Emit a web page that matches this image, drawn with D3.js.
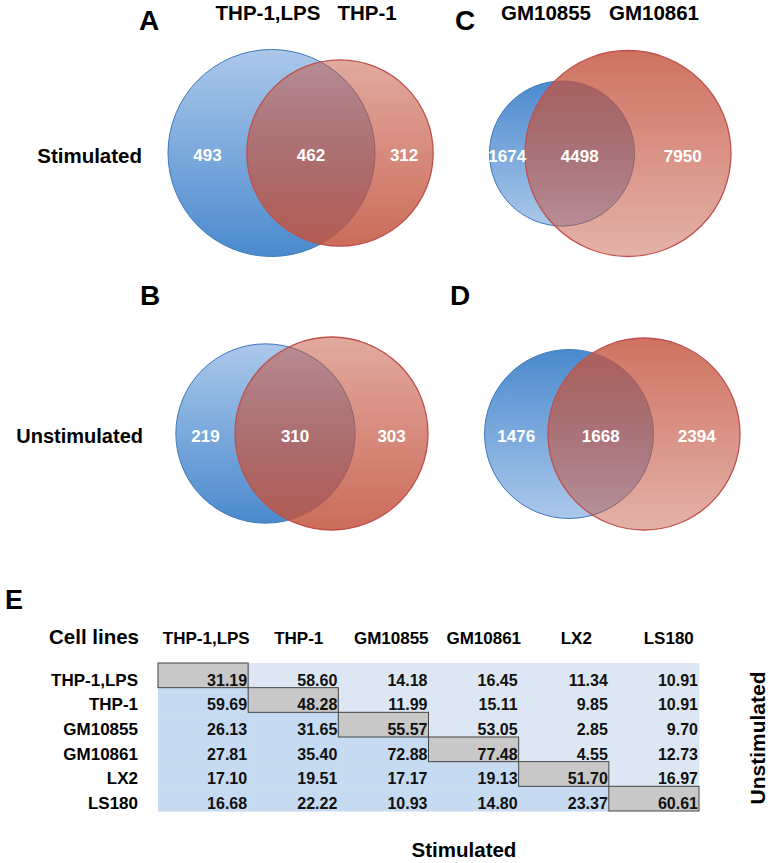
<!DOCTYPE html>
<html><head><meta charset="utf-8">
<script src="https://cdn.jsdelivr.net/npm/d3@7"></script>
<style>
html,body{margin:0;padding:0;background:#fff;}
svg{display:block;font-family:"Liberation Sans",Arial,Helvetica,sans-serif;font-weight:bold;}
</style></head>
<body>
<script>
// ---------- data ----------
const vennLetters = ["A", "B", "C", "D"];
const vennLeftNames = ["THP-1,LPS", "", "GM10855", ""];
const vennRightNames = ["THP-1", "", "GM10861", ""];
const vennOnlyLeft = [493, 219, 1674, 1476];
const vennShared = [462, 310, 4498, 1668];
const vennOnlyRight = [312, 303, 7950, 2394];
const vennRowLabels = ["Stimulated", "Unstimulated"];

const cellLines = ["THP-1,LPS", "THP-1", "GM10855", "GM10861", "LX2", "LS180"];
const overlapTable = [
  [31.19, 58.60, 14.18, 16.45, 11.34, 10.91],
  [59.69, 48.28, 11.99, 15.11, 9.85, 10.91],
  [26.13, 31.65, 55.57, 53.05, 2.85, 9.70],
  [27.81, 35.40, 72.88, 77.48, 4.55, 12.73],
  [17.10, 19.51, 17.17, 19.13, 51.70, 16.97],
  [16.68, 22.22, 10.93, 14.80, 23.37, 60.61]
];

// ---------- layout ----------
const W = 768, H = 863;
const svg = d3.select("body").append("svg").attr("width", W).attr("height", H);
const defs = svg.append("defs");

// panel layout: blue center x, red center x, center y, max radius, gradient direction, letter pos
const panelLayout = [
  {bx: 271.5, rx: 340, cy: 153, rMax: 103.5, lightTop: true,  lx: 149, ly: 30, hy: 20, hl: 268, hr: 367},
  {bx: 265.5, rx: 331.5, cy: 433.5, rMax: 96.5, lightTop: true,  lx: 150, ly: 305},
  {bx: 562, rx: 628, cy: 153.5, rMax: 103, lightTop: false, lx: 465, ly: 30, hy: 20, hl: 546, hr: 654},
  {bx: 569, rx: 644, cy: 434, rMax: 96, lightTop: false, lx: 460, ly: 305}
];

function makeGrad(id, stops) {
  const g = defs.append("linearGradient").attr("id", id)
    .attr("x1", 0).attr("y1", 0).attr("x2", 0).attr("y2", 1);
  stops.forEach(s => g.append("stop").attr("offset", s[0]).attr("stop-color", s[1]).attr("stop-opacity", s[2]));
}
const blueLight = "#abc8ea", blueDark = "#4b8ace";
const redBase = "#c4543f";

vennLetters.forEach((letter, i) => {
  const L = panelLayout[i];
  const leftTotal = vennOnlyLeft[i] + vennShared[i];
  const rightTotal = vennOnlyRight[i] + vennShared[i];
  const r = d3.scaleSqrt().domain([0, Math.max(leftTotal, rightTotal)]).range([0, L.rMax]);
  const rb = r(leftTotal), rr = r(rightTotal);

  makeGrad("blue" + i, L.lightTop ? [[0, blueLight, 1], [1, blueDark, 1]] : [[0, blueDark, 1], [1, blueLight, 1]]);
  makeGrad("red" + i, L.lightTop ? [[0, redBase, 0.5], [1, redBase, 0.86]] : [[0, redBase, 0.82], [1, redBase, 0.45]]);

  const g = svg.append("g");
  g.append("circle").attr("cx", L.bx).attr("cy", L.cy).attr("r", rb)
    .attr("fill", `url(#blue${i})`).attr("stroke", "#3f77b8").attr("stroke-width", 1);
  g.append("circle").attr("cx", L.rx).attr("cy", L.cy).attr("r", rr)
    .attr("fill", `url(#red${i})`).attr("stroke", "#c0504d").attr("stroke-width", 1.3);

  const bl = L.bx - rb, br = L.bx + rb, rl = L.rx - rr, rrt = L.rx + rr;
  const labels = [
    [(bl + rl) / 2, vennOnlyLeft[i]],
    [(rl + Math.min(br, rrt)) / 2, vennShared[i]],
    [(Math.min(br, rrt) + rrt) / 2, vennOnlyRight[i]]
  ];
  g.selectAll("text.num").data(labels).join("text").attr("class", "num")
    .attr("x", d => d[0]).attr("y", L.cy + 8)
    .attr("text-anchor", "middle").attr("fill", "#fff").attr("font-size", 17)
    .text(d => d[1]);

  svg.append("text").attr("x", L.lx).attr("y", L.ly).attr("text-anchor", "middle")
    .attr("font-size", 28).text(letter);
  if (vennLeftNames[i]) {
    svg.append("text").attr("x", L.hl).attr("y", L.hy).attr("text-anchor", "middle")
      .attr("font-size", 20.5).text(vennLeftNames[i]);
    svg.append("text").attr("x", L.hr).attr("y", L.hy).attr("text-anchor", "middle")
      .attr("font-size", 20.5).text(vennRightNames[i]);
  }
});

svg.append("text").attr("x", 142).attr("y", 163).attr("text-anchor", "end")
  .attr("font-size", 20.5).text(vennRowLabels[0]);
svg.append("text").attr("x", 143).attr("y", 443).attr("text-anchor", "end")
  .attr("font-size", 20).text(vennRowLabels[1]);

// ---------- table E ----------
svg.append("text").attr("x", 5).attr("y", 609).attr("font-size", 27).text("E");
svg.append("text").attr("x", 49).attr("y", 644).attr("font-size", 20.5).text("Cell lines");

const x = d3.scaleBand().domain(d3.range(6)).range([158, 699]).paddingInner(0);
const y = d3.scaleBand().domain(d3.range(6)).range([663, 811]).paddingInner(0);
const xHead = d3.scaleBand().domain(d3.range(6)).range([160, 715]);

svg.selectAll("text.colhead").data(cellLines).join("text").attr("class", "colhead")
  .attr("x", (d, i) => xHead(i) + xHead.bandwidth() / 2).attr("y", 644)
  .attr("text-anchor", "middle").attr("font-size", 17).text(d => d);

svg.selectAll("text.rowhead").data(cellLines).join("text").attr("class", "rowhead")
  .attr("x", 138).attr("y", (d, i) => y(i) + y.bandwidth() - 2)
  .attr("text-anchor", "end").attr("font-size", 17).text(d => d);

const cells = [];
overlapTable.forEach((row, r) => row.forEach((v, c) => cells.push({r, c, v})));

svg.append("g").selectAll("rect").data(cells.filter(d => d.r !== d.c)).join("rect")
  .attr("x", d => x(d.c)).attr("y", d => y(d.r))
  .attr("width", x.bandwidth() + 0.5).attr("height", y.bandwidth() + 0.5)
  .attr("fill", d => d.r > d.c ? "#c6daf1" : "#dde7f3");
svg.append("g").selectAll("rect").data(cells.filter(d => d.r === d.c)).join("rect")
  .attr("x", d => x(d.c)).attr("y", d => y(d.r))
  .attr("width", x.bandwidth()).attr("height", y.bandwidth())
  .attr("fill", "#c8c8c8").attr("stroke", "#444").attr("stroke-width", 1);

svg.append("g").selectAll("text").data(cells).join("text")
  .attr("x", d => x(d.c) + x.bandwidth() - 1).attr("y", d => y(d.r) + y.bandwidth() - 2)
  .attr("text-anchor", "end").attr("font-size", 16).attr("fill", "#111")
  .text(d => d.v.toFixed(2));

svg.append("text").attr("transform", "translate(765,738) rotate(-90)")
  .attr("text-anchor", "middle").attr("font-size", 21).text("Unstimulated");
svg.append("text").attr("x", 464).attr("y", 857).attr("text-anchor", "middle")
  .attr("font-size", 20.5).text("Stimulated");
</script>
</body></html>
